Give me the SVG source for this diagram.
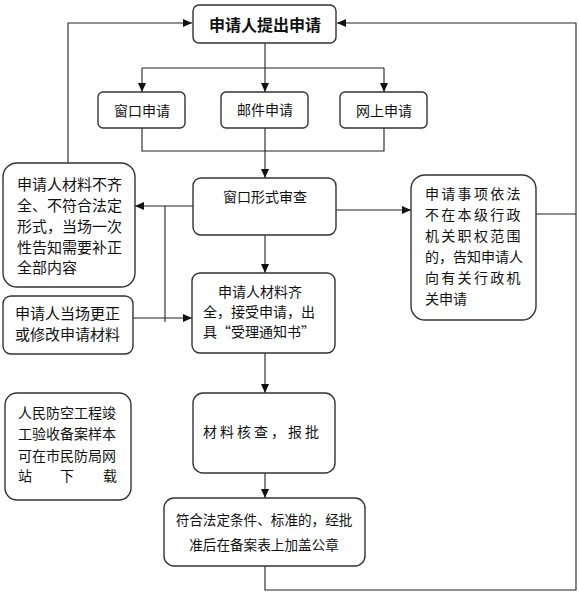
<svg xmlns="http://www.w3.org/2000/svg" width="579" height="613" viewBox="0 0 579 613">
<style>
.box{fill:#fff;stroke:#333;stroke-width:1.4}
.ln{fill:none;stroke:#222;stroke-width:1.1}
text{font-family:"Noto Sans CJK SC","Noto Sans",sans-serif;fill:#111;font-size:14px}
.t15{font-size:15px}
.b{font-weight:bold;font-size:16px}
.c{text-anchor:middle}
.sp{letter-spacing:2.3px}
</style>
<defs>
<marker id="ar" markerUnits="userSpaceOnUse" markerWidth="10" markerHeight="8" refX="9" refY="4" orient="auto">
<path d="M0,0 L9,4 L0,8 Z" fill="#111"/>
</marker>
</defs>
<g id="connectors" class="ln">
<path d="M68,166 V23 H192" marker-end="url(#ar)"/>
<path d="M265,566 V590 H576 V23 H337" marker-end="url(#ar)"/>
<path d="M265,43 V68"/>
<path d="M142,68 H384"/>
<path d="M142,68 V92" marker-end="url(#ar)"/>
<path d="M265,68 V92" marker-end="url(#ar)"/>
<path d="M384,68 V92" marker-end="url(#ar)"/>
<path d="M142,128 V151 H384 V128"/>
<path d="M265,127 V178" marker-end="url(#ar)"/>
<path d="M336,210 H411" marker-end="url(#ar)"/>
<path d="M536,214 H576"/>
<path d="M193,206 H135" marker-end="url(#ar)"/>
<path d="M165,206 V322"/>
<path d="M133,318 H192" marker-end="url(#ar)"/>
<path d="M265,235 V273" marker-end="url(#ar)"/>
<path d="M265,353 V393" marker-end="url(#ar)"/>
<path d="M265,473 V498" marker-end="url(#ar)"/>
</g>
<g id="start">
<rect class="box" x="193" y="5" width="143" height="38" rx="6"/>
<text class="b c" x="265" y="31">申请人提出申请</text>
</g>
<g id="window">
<rect class="box" x="98" y="92" width="87" height="36" rx="5"/>
<text class="c" x="142" y="116">窗口申请</text>
</g>
<g id="mail">
<rect class="box" x="221" y="92" width="87" height="36" rx="5"/>
<text class="c" x="265" y="115">邮件申请</text>
</g>
<g id="online">
<rect class="box" x="340" y="92" width="87" height="36" rx="5"/>
<text class="c" x="384" y="116">网上申请</text>
</g>
<g id="review">
<rect class="box" x="193" y="178" width="143" height="57" rx="8"/>
<text x="223" y="202">窗口形式审查</text>
</g>
<g id="notjuris">
<rect class="box" x="411" y="175" width="125" height="145" rx="14"/>
<text x="425" y="199" class="sp">申请事项依法</text>
<text x="425" y="220" class="sp">不在本级行政</text>
<text x="425" y="241" class="sp">机关职权范围</text>
<text x="425" y="262">的，告知申请人</text>
<text x="425" y="283" class="sp">向有关行政机</text>
<text x="425" y="304">关申请</text>
</g>
<g id="incomplete">
<rect class="box" x="3" y="163" width="132" height="124" rx="14"/>
<text class="t15" x="17" y="190">申请人材料不齐</text>
<text class="t15" x="17" y="211">全、不符合法定</text>
<text class="t15" x="17" y="232">形式，当场一次</text>
<text class="t15" x="17" y="253">性告知需要补正</text>
<text class="t15" x="17" y="273">全部内容</text>
</g>
<g id="correct">
<rect class="box" x="3" y="296" width="130" height="58" rx="8"/>
<text class="t15" x="15" y="319">申请人当场更正</text>
<text class="t15" x="15" y="340">或修改申请材料</text>
</g>
<g id="accept">
<rect class="box" x="192" y="273" width="143" height="80" rx="8"/>
<text x="218" y="297">申请人材料齐</text>
<text x="203" y="317">全，接受申请，出</text>
<text x="203" y="337">具“受理通知书”</text>
</g>
<g id="verify">
<rect class="box" x="193" y="393" width="142" height="80" rx="10"/>
<text x="203" y="437" style="letter-spacing:3px">材料核查，报批</text>
</g>
<g id="approve">
<rect class="box" x="164" y="498" width="201" height="68" rx="10"/>
<text class="c" x="264" y="525" style="font-size:13.6px">符合法定条件、标准的，经批</text>
<text class="c" x="264" y="550" style="font-size:13.6px">准后在备案表上加盖公章</text>
</g>
<g id="note">
<rect class="box" x="5" y="393" width="126" height="107" rx="12"/>
<text x="18" y="418">人民防空工程竣</text>
<text x="18" y="439">工验收备案样本</text>
<text x="18" y="461">可在市民防局网</text>
<text x="18" y="481">站</text>
<text x="60" y="481">下</text>
<text x="103" y="481">载</text>
</g>
</svg>
